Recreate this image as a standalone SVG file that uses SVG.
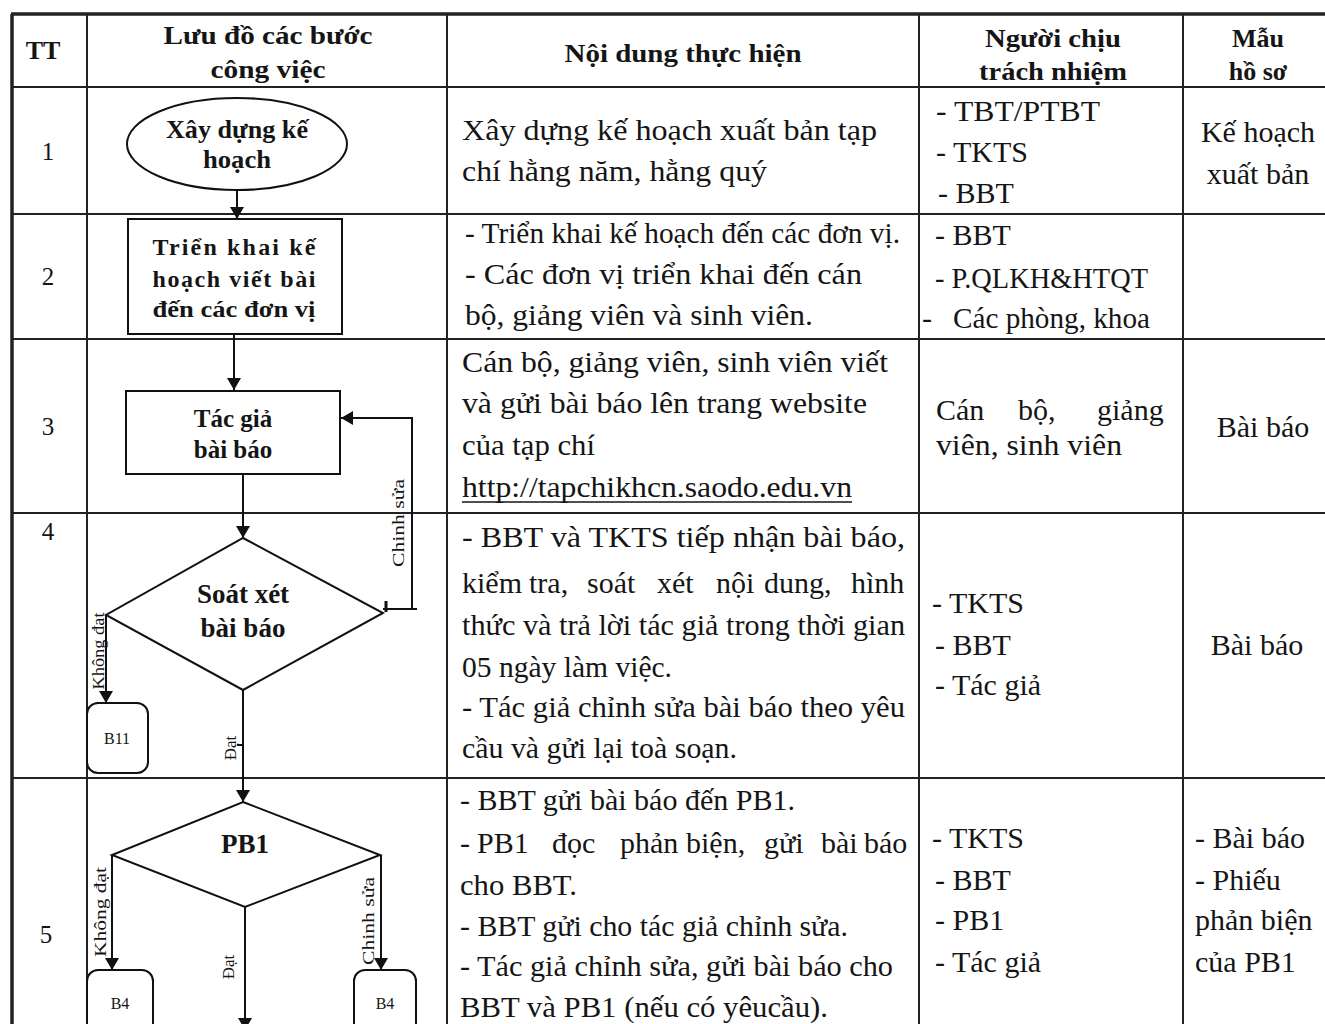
<svg xmlns="http://www.w3.org/2000/svg" width="1325" height="1024" viewBox="0 0 1325 1024">
<defs>
<marker id="arr" viewBox="0 0 12 14" refX="12" refY="7" markerWidth="12" markerHeight="14" markerUnits="userSpaceOnUse" orient="auto">
<path d="M0,0 L12,7 L0,14 Z" fill="#111"/>
</marker>
<style>
text{font-family:"Liberation Serif","Times New Roman",serif;fill:#151515}
.hd{font-size:26px;font-weight:bold;text-anchor:middle}
.num{font-size:25px;text-anchor:middle}
.c{font-size:30px}
.cm{font-size:30px;text-anchor:middle}
.fb{font-weight:bold;text-anchor:middle}
.lbl{font-size:17px}
.sm{font-size:16px;text-anchor:middle}
.grid{stroke:#222;stroke-width:2;fill:none}
.shape{stroke:#111;stroke-width:2;fill:#fff}
.conn{stroke:#111;stroke-width:2;fill:none}
</style>
</defs>
<rect width="1325" height="1024" fill="#fff"/>

<g id="table">
<line class="grid" x1="11" y1="14" x2="1325" y2="14" style="stroke-width:3.5"/>
<line class="grid" x1="12" y1="14" x2="12" y2="1024" style="stroke-width:3.5"/>
<line class="grid" x1="87" y1="14" x2="87" y2="1024"/>
<line class="grid" x1="447" y1="14" x2="447" y2="1024"/>
<line class="grid" x1="919" y1="14" x2="919" y2="1024"/>
<line class="grid" x1="1183" y1="14" x2="1183" y2="1024"/>
<line class="grid" x1="12" y1="87" x2="1325" y2="87"/>
<line class="grid" x1="12" y1="214" x2="1325" y2="214"/>
<line class="grid" x1="12" y1="339" x2="1325" y2="339"/>
<line class="grid" x1="12" y1="513" x2="1325" y2="513"/>
<line class="grid" x1="12" y1="778" x2="1325" y2="778"/>
</g>

<g id="header">
<text class="hd" x="43" y="59">TT</text>
<text class="hd" x="268" y="44" textLength="209" lengthAdjust="spacingAndGlyphs">Lưu đồ các bước</text>
<text class="hd" x="268" y="78" textLength="115" lengthAdjust="spacingAndGlyphs">công việc</text>
<text class="hd" x="683" y="62" textLength="237" lengthAdjust="spacingAndGlyphs">Nội dung thực hiện</text>
<text class="hd" x="1053" y="47" textLength="136" lengthAdjust="spacingAndGlyphs">Người chịu</text>
<text class="hd" x="1053" y="80" textLength="148" lengthAdjust="spacingAndGlyphs">trách nhiệm</text>
<text class="hd" x="1258" y="47">Mẫu</text>
<text class="hd" x="1258" y="80">hồ sơ</text>
</g>

<g id="numbers">
<text class="num" x="48" y="160">1</text>
<text class="num" x="48" y="285">2</text>
<text class="num" x="48" y="435">3</text>
<text class="num" x="48" y="540">4</text>
<text class="num" x="46" y="943">5</text>
</g>

<g id="connectors">
<line class="conn" x1="237" y1="190" x2="237" y2="219" marker-end="url(#arr)"/>
<line class="conn" x1="234" y1="334" x2="234" y2="390" marker-end="url(#arr)"/>
<line class="conn" x1="243" y1="474" x2="243" y2="538" marker-end="url(#arr)"/>
<polyline class="conn" points="383,609 417,609"/>
<line class="conn" x1="386" y1="601" x2="386" y2="612" style="stroke-width:3"/>
<polyline class="conn" points="412,609 412,418 341,418" marker-end="url(#arr)"/>
<polyline class="conn" points="106,615 106,703" marker-end="url(#arr)"/>
<line class="conn" x1="243" y1="690" x2="243" y2="802" marker-end="url(#arr)"/>
<line class="conn" x1="237" y1="745" x2="243" y2="745"/>
<polyline class="conn" points="112,855 112,970" marker-end="url(#arr)"/>
<polyline class="conn" points="381,855 381,970" marker-end="url(#arr)"/>
<line class="conn" x1="245" y1="907" x2="245" y2="1030" marker-end="url(#arr)"/>
<text class="lbl" transform="translate(404,523) rotate(-90)" text-anchor="middle" textLength="88" lengthAdjust="spacingAndGlyphs">Chinh sửa</text>
<text class="lbl" transform="translate(104,651) rotate(-90)" text-anchor="middle" textLength="77" lengthAdjust="spacingAndGlyphs">Không đạt</text>
<text class="lbl" transform="translate(236,748) rotate(-90)" text-anchor="middle">Đạt</text>
<text class="lbl" transform="translate(106,912) rotate(-90)" text-anchor="middle" textLength="90" lengthAdjust="spacingAndGlyphs">Không đạt</text>
<text class="lbl" transform="translate(234,967) rotate(-90)" text-anchor="middle">Đạt</text>
<text class="lbl" transform="translate(374,921) rotate(-90)" text-anchor="middle" textLength="88" lengthAdjust="spacingAndGlyphs">Chinh sửa</text>
</g>

<g id="n1">
<ellipse class="shape" cx="237" cy="144" rx="110" ry="46"/>
<text class="fb" x="237" y="138" font-size="25" textLength="142" lengthAdjust="spacingAndGlyphs">Xây dựng kế</text>
<text class="fb" x="237" y="168" font-size="25" textLength="68" lengthAdjust="spacingAndGlyphs">hoạch</text>
</g>

<g id="n2">
<rect class="shape" x="128" y="219" width="214" height="115"/>
<text class="fb" x="234" y="255" font-size="24" textLength="163" lengthAdjust="spacing">Triển khai kế</text>
<text class="fb" x="234" y="287" font-size="24" textLength="163" lengthAdjust="spacing">hoạch viết bài</text>
<text class="fb" x="234" y="317" font-size="24" textLength="163" lengthAdjust="spacingAndGlyphs">đến các đơn vị</text>
</g>

<g id="n3">
<rect class="shape" x="126" y="391" width="214" height="83"/>
<text class="fb" x="233" y="427" font-size="25">Tác giả</text>
<text class="fb" x="233" y="458" font-size="25">bài báo</text>
</g>

<g id="n4">
<polygon class="shape" points="243,538 383,613 243,690 106,615"/>
<text class="fb" x="243" y="603" font-size="27">Soát xét</text>
<text class="fb" x="243" y="637" font-size="27">bài báo</text>
</g>

<g id="n5">
<rect class="shape" x="87" y="703" width="61" height="70" rx="11"/>
<text class="sm" x="117" y="744">B11</text>
</g>

<g id="n6">
<polygon class="shape" points="243,802 380,855 245,907 112,855"/>
<text class="fb" x="245" y="853" font-size="27">PB1</text>
</g>

<g id="n7">
<rect class="shape" x="87" y="970" width="66" height="70" rx="11"/>
<text class="sm" x="120" y="1009">B4</text>
</g>

<g id="n8">
<rect class="shape" x="354" y="970" width="62" height="70" rx="11"/>
<text class="sm" x="385" y="1009">B4</text>
</g>

<g id="content">
<text class="c" x="462" y="140" textLength="415" lengthAdjust="spacingAndGlyphs">Xây dựng kế hoạch xuất bản tạp</text>
<text class="c" x="462" y="181" textLength="305" lengthAdjust="spacingAndGlyphs">chí hằng năm, hằng quý</text>

<text class="c" x="465" y="243" textLength="435" lengthAdjust="spacingAndGlyphs">- Triển khai kế hoạch đến các đơn vị.</text>
<text class="c" x="465" y="284" textLength="397" lengthAdjust="spacingAndGlyphs">-  Các đơn vị triển khai đến cán</text>
<text class="c" x="465" y="325" textLength="348" lengthAdjust="spacingAndGlyphs">bộ, giảng viên và sinh viên.</text>

<text class="c" x="462" y="372" textLength="426" lengthAdjust="spacingAndGlyphs">Cán bộ, giảng viên, sinh viên viết</text>
<text class="c" x="462" y="413" textLength="405" lengthAdjust="spacingAndGlyphs">và gửi bài báo lên trang website</text>
<text class="c" x="462" y="455" textLength="133" lengthAdjust="spacingAndGlyphs">của tạp chí</text>
<text class="c" x="462" y="497" textLength="390" lengthAdjust="spacingAndGlyphs">http://tapchikhcn.saodo.edu.vn</text>
<line x1="462" y1="502" x2="852" y2="502" stroke="#151515" stroke-width="1.5"/>

<text class="c" x="462" y="547" textLength="443" lengthAdjust="spacingAndGlyphs">- BBT và TKTS tiếp nhận bài báo,</text>
<text class="c" y="593"><tspan x="462">kiểm</tspan><tspan x="529">tra,</tspan><tspan x="587">soát</tspan><tspan x="657">xét</tspan><tspan x="716">nội</tspan><tspan x="764">dung,</tspan><tspan x="851">hình</tspan></text>
<text class="c" x="462" y="635" textLength="443" lengthAdjust="spacingAndGlyphs">thức và trả lời tác giả trong thời gian</text>
<text class="c" x="462" y="677" textLength="210" lengthAdjust="spacingAndGlyphs">05 ngày làm việc.</text>
<text class="c" x="462" y="717" textLength="443" lengthAdjust="spacingAndGlyphs">- Tác giả chỉnh sửa bài báo theo yêu</text>
<text class="c" x="462" y="758" textLength="275" lengthAdjust="spacingAndGlyphs">cầu và gửi lại toà soạn.</text>

<text class="c" x="460" y="810" textLength="335" lengthAdjust="spacingAndGlyphs">- BBT gửi bài báo đến PB1.</text>
<text class="c" y="853"><tspan x="460">-</tspan><tspan x="477">PB1</tspan><tspan x="552">đọc</tspan><tspan x="620">phản</tspan><tspan x="686">biện,</tspan><tspan x="764">gửi</tspan><tspan x="821">bài</tspan><tspan x="864">báo</tspan></text>
<text class="c" x="460" y="895" textLength="117" lengthAdjust="spacingAndGlyphs">cho BBT.</text>
<text class="c" x="460" y="936" textLength="388" lengthAdjust="spacingAndGlyphs">- BBT gửi cho tác giả chỉnh sửa.</text>
<text class="c" x="460" y="976" textLength="433" lengthAdjust="spacingAndGlyphs">- Tác giả chỉnh sửa, gửi bài báo cho</text>
<text class="c" x="460" y="1017" textLength="368" lengthAdjust="spacingAndGlyphs">BBT và PB1 (nếu có yêucầu).</text>
</g>

<g id="responsible">
<text class="c" x="936" y="121" textLength="164" lengthAdjust="spacingAndGlyphs">- TBT/PTBT</text>
<text class="c" x="936" y="162">- TKTS</text>
<text class="c" x="938" y="203">- BBT</text>

<text class="c" x="935" y="245">- BBT</text>
<text class="c" x="935" y="288" textLength="213" lengthAdjust="spacingAndGlyphs">- P.QLKH&amp;HTQT</text>
<text class="c" x="922" y="328">-</text>
<text class="c" x="953" y="328" textLength="197" lengthAdjust="spacingAndGlyphs">Các phòng, khoa</text>

<text class="c" y="420"><tspan x="936">Cán</tspan><tspan x="1018">bộ,</tspan><tspan x="1097">giảng</tspan></text>
<text class="c" x="936" y="455" textLength="186" lengthAdjust="spacingAndGlyphs">viên, sinh viên</text>

<text class="c" x="932" y="613">- TKTS</text>
<text class="c" x="935" y="655">- BBT</text>
<text class="c" x="935" y="695">- Tác giả</text>

<text class="c" x="932" y="848">- TKTS</text>
<text class="c" x="935" y="890">- BBT</text>
<text class="c" x="935" y="930">- PB1</text>
<text class="c" x="935" y="972">- Tác giả</text>
</g>

<g id="forms">
<text class="cm" x="1258" y="142">Kế hoạch</text>
<text class="cm" x="1258" y="184">xuất bản</text>
<text class="cm" x="1263" y="437">Bài báo</text>
<text class="cm" x="1257" y="655">Bài báo</text>
<text class="c" x="1195" y="848">- Bài báo</text>
<text class="c" x="1195" y="890">- Phiếu</text>
<text class="c" x="1195" y="930">phản biện</text>
<text class="c" x="1195" y="972">của PB1</text>
</g>
</svg>
